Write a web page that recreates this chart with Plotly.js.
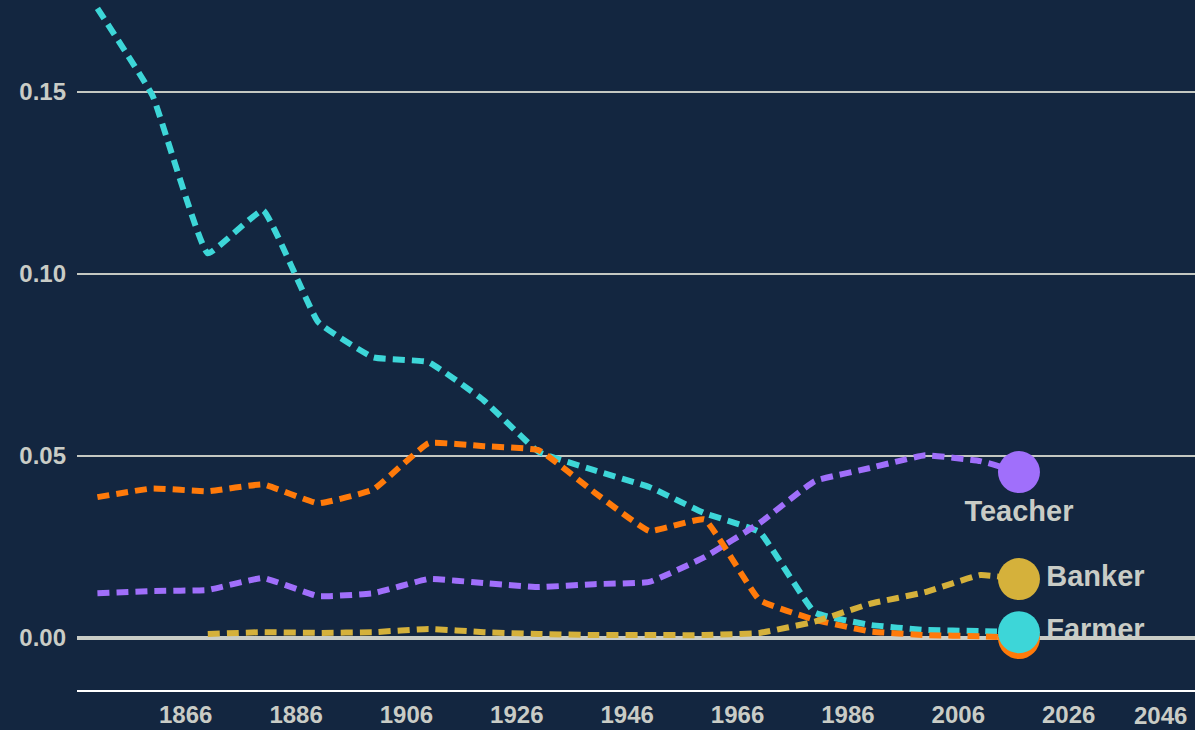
<!DOCTYPE html>
<html>
<head>
<meta charset="utf-8">
<script src="https://cdn.plot.ly/plotly-3.0.1.min.js"></script>
<style>
html,body{margin:0;padding:0;background:#132640;}
#chart{width:1195px;height:730px;}
</style>
</head>
<body>
<div id="chart"></div>
<script>
// Years of observation (census decades + last survey year)
const years = [1850,1860,1870,1880,1890,1900,1910,1920,1930,1940,1950,1960,1970,1980,1990,2000,2010,2017];
const bankerYears = [1870,1880,1890,1900,1910,1920,1930,1940,1950,1960,1970,1980,1990,2000,2010,2017];

// Occupation shares
const farmer  = [0.173,0.149,0.1057,0.1175,0.0868,0.0771,0.0758,0.0653,0.0511,0.0461,0.0415,0.0343,0.0291,0.0070,0.0036,0.0022,0.0019,0.0016];
const laborer = [0.0387,0.0411,0.0403,0.0422,0.0370,0.0408,0.0535,0.0527,0.0516,0.0401,0.0294,0.0326,0.0104,0.0050,0.0018,0.0008,0.0005,0.0000];
const teacher = [0.0123,0.0129,0.0132,0.0165,0.0115,0.0123,0.0162,0.0151,0.0140,0.0148,0.0154,0.0222,0.0316,0.0431,0.0467,0.0502,0.0486,0.0456];
const banker  = [0.0011,0.0016,0.0014,0.0016,0.0025,0.0016,0.0011,0.0008,0.0008,0.0008,0.0014,0.0045,0.0094,0.0126,0.0173,0.0162];

const xTicks = [1866,1886,1906,1926,1946,1966,1986,2006,2026];
const yTicks = [0,0.05,0.10,0.15];

const C_FARMER = '#3dd6d8';
const C_LABOR  = '#ff7a0a';
const C_TEACH  = '#a06ffb';
const C_BANK   = '#d5b13b';
const TXT = '#c9ccc6';
const BG = '#132640';
const FONT = 'Liberation Sans, Arial, sans-serif';

function lineTrace(x, y, color){
  return {x:x, y:y, type:'scatter', mode:'lines', showlegend:false, hoverinfo:'skip',
    line:{color:color, width:6, dash:'12px,7px', shape:'spline', smoothing:0.3}};
}
function endTrace(x, y, color, label, pos){
  return {x:[x[x.length-1]], y:[y[y.length-1]], type:'scatter', mode: label ? 'markers+text':'markers',
    text: label ? [label] : undefined, textposition: pos, showlegend:false, hoverinfo:'skip',
    marker:{color:color, size:42, line:{width:0}},
    textfont:{family:FONT, size:29, color:TXT, weight:'bold'}};
}

const data = [
  lineTrace(years, farmer, C_FARMER),
  lineTrace(years, laborer, C_LABOR),
  lineTrace(bankerYears, banker, C_BANK),
  lineTrace(years, teacher, C_TEACH),
  endTrace(years, teacher, C_TEACH, 'Teacher', 'bottom center'),
  endTrace(bankerYears, banker, C_BANK, 'Banker', 'middle right'),
  endTrace(years, laborer, C_LABOR, null, 'middle right'),
  endTrace(years, farmer, C_FARMER, 'Farmer', 'middle right')
];

const layout = {
  width:1195, height:730,
  paper_bgcolor:BG, plot_bgcolor:BG,
  margin:{l:77, r:0, t:0, b:40},
  font:{family:FONT, color:TXT},
  xaxis:{range:[1846.3,2048.9], tickvals:xTicks, ticktext:xTicks.map(String),
    showgrid:false, zeroline:false, showline:true, linecolor:'#ffffff', linewidth:2,
    ticks:'', ticklabelstandoff:2,
    tickfont:{size:24, color:TXT, weight:'bold'}},
  yaxis:{range:[-0.01429,0.1753], tickvals:yTicks, tickformat:'.2f',
    showgrid:true, gridcolor:'#c4c8c2', gridwidth:1.5,
    zeroline:true, zerolinecolor:'#c9ccc6', zerolinewidth:4,
    showline:false, ticks:'', ticklabelstandoff:10,
    tickfont:{size:24, color:TXT, weight:'bold'}},
  annotations:[{xref:'paper', yref:'paper', x:0.9945, y:0, xanchor:'right', yanchor:'middle',
    yshift:-25, text:'<b>2046</b>', showarrow:false,
    font:{family:FONT, size:24, color:TXT}}]
};

Plotly.newPlot('chart', data, layout, {displayModeBar:false, staticPlot:true});
</script>
</body>
</html>
